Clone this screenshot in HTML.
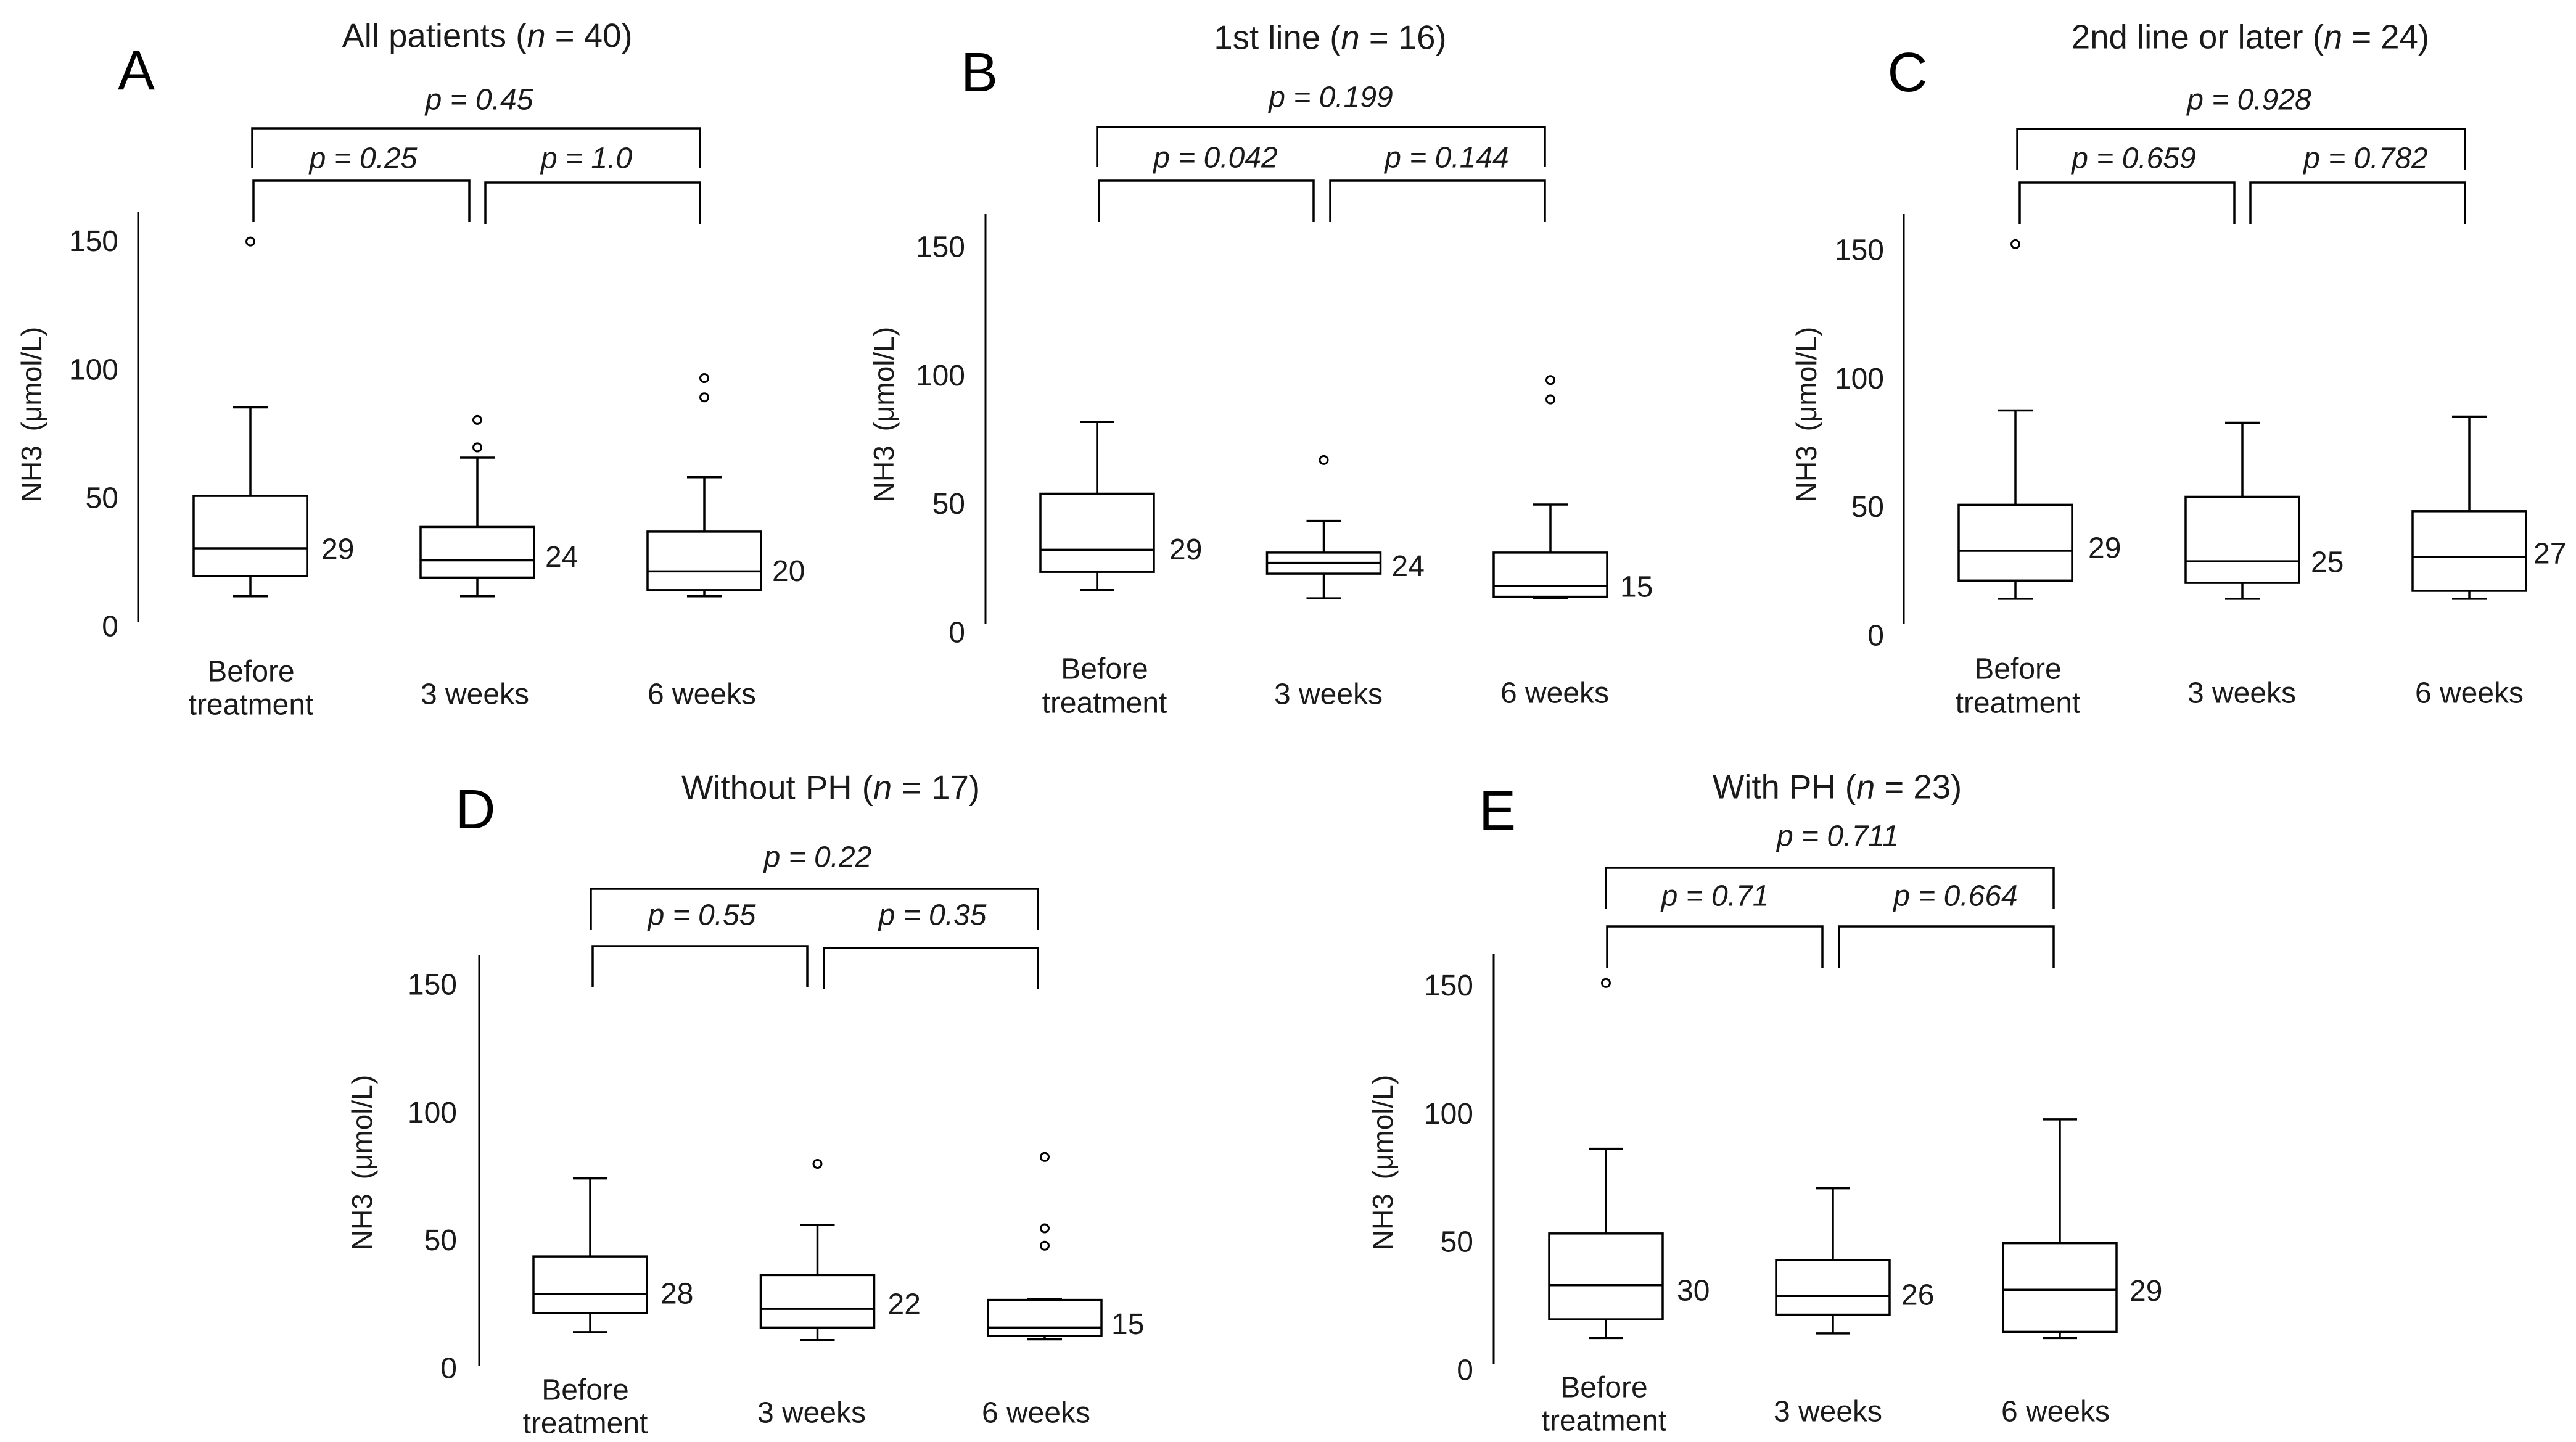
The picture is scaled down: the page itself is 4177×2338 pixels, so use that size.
<!DOCTYPE html>
<html lang="en">
<head>
<meta charset="utf-8">
<title>NH3 levels before and during treatment</title>
<style>
  html, body { margin: 0; padding: 0; background: #fff; }
  svg { display: block; }
  text { font-family: "Liberation Sans", Arial, sans-serif; fill: #1a1a1a; }
  .title { font-size: 54.5px; text-anchor: middle; dominant-baseline: central; }
  .letter { font-size: 90px; text-anchor: middle; dominant-baseline: central; fill: #000; }
  .pval { font-size: 48px; font-style: italic; text-anchor: middle; dominant-baseline: central; }
  .xlab { font-size: 48px; text-anchor: middle; dominant-baseline: central; }
  .ylab { font-size: 46px; text-anchor: middle; dominant-baseline: central; word-spacing: 10px; }
  .tick { font-size: 48px; text-anchor: end; dominant-baseline: central; }
  .value { font-size: 48px; text-anchor: start; dominant-baseline: central; }
  .bracket { fill: none; stroke: #000; stroke-width: 3.5px; }
  .axis { stroke: #000; stroke-width: 3px; }
  .mark { stroke: #000; stroke-width: 3.5px; fill: none; }
  .whisker { stroke: #000; stroke-width: 3.5px; }
  .outlier { stroke: #000; stroke-width: 3px; fill: #fff; }
</style>
</head>
<body>
<svg id="figure" xmlns="http://www.w3.org/2000/svg" width="4177" height="2338" viewBox="0 0 4177 2338">
  <rect x="0" y="0" width="4177" height="2338" fill="#fff"/>

  <g id="panel-a">
    <text class="letter" x="221" y="115">A</text>
    <text class="title" x="790" y="58">All patients (<tspan font-style="italic">n</tspan> = 40)</text>
    <text class="pval" x="777" y="162">p = 0.45</text>
    <path class="bracket" d="M409 273V208H1135V273"/>
    <text class="pval" x="589" y="257">p = 0.25</text>
    <text class="pval" x="951" y="257">p = 1.0</text>
    <path class="bracket" d="M411 360V293H761V360"/>
    <path class="bracket" d="M787 363V296H1135V363"/>
    <text class="ylab" transform="translate(51 672) rotate(-90)">NH3 (μmol/L)</text>
    <text class="xlab" x="407" y="1089">Before</text>
    <text class="xlab" x="407" y="1143">treatment</text>
    <text class="xlab" x="770" y="1126">3 weeks</text>
    <text class="xlab" x="1138" y="1126">6 weeks</text>
  </g>

  <g id="panel-b">
    <text class="letter" x="1588" y="118">B</text>
    <text class="title" x="2157" y="61">1st line (<tspan font-style="italic">n</tspan> = 16)</text>
    <text class="pval" x="2158" y="158">p = 0.199</text>
    <path class="bracket" d="M1779 271V206H2505V271"/>
    <text class="pval" x="1971" y="256">p = 0.042</text>
    <text class="pval" x="2346" y="256">p = 0.144</text>
    <path class="bracket" d="M1782 360V293H2130V360"/>
    <path class="bracket" d="M2157 360V293H2505V360"/>
    <text class="ylab" transform="translate(1433 672) rotate(-90)">NH3 (μmol/L)</text>
    <text class="xlab" x="1791" y="1085">Before</text>
    <text class="xlab" x="1791" y="1140">treatment</text>
    <text class="xlab" x="2154" y="1126">3 weeks</text>
    <text class="xlab" x="2521" y="1124">6 weeks</text>
  </g>

  <g id="panel-c">
    <text class="letter" x="3093" y="118">C</text>
    <text class="title" x="3649" y="60">2nd line or later (<tspan font-style="italic">n</tspan> = 24)</text>
    <text class="pval" x="3647" y="162">p = 0.928</text>
    <path class="bracket" d="M3271 275V209H3997V275"/>
    <text class="pval" x="3460" y="257">p = 0.659</text>
    <text class="pval" x="3836" y="257">p = 0.782</text>
    <path class="bracket" d="M3275 363V296H3623V363"/>
    <path class="bracket" d="M3649 363V296H3997V363"/>
    <text class="ylab" transform="translate(2929 672) rotate(-90)">NH3 (μmol/L)</text>
    <text class="xlab" x="3272" y="1085">Before</text>
    <text class="xlab" x="3272" y="1140">treatment</text>
    <text class="xlab" x="3635" y="1124">3 weeks</text>
    <text class="xlab" x="4004" y="1124">6 weeks</text>
  </g>

  <g id="panel-d">
    <text class="letter" x="771" y="1313">D</text>
    <text class="title" x="1347" y="1277" style="word-spacing:1px">Without PH (<tspan font-style="italic">n</tspan> = 17)</text>
    <text class="pval" x="1326" y="1390">p = 0.22</text>
    <path class="bracket" d="M958 1508V1441H1683V1508"/>
    <text class="pval" x="1138" y="1484">p = 0.55</text>
    <text class="pval" x="1512" y="1484">p = 0.35</text>
    <path class="bracket" d="M961 1601V1534H1309V1601"/>
    <path class="bracket" d="M1336 1603V1537H1683V1603"/>
    <text class="ylab" transform="translate(587 1885) rotate(-90)">NH3 (μmol/L)</text>
    <text class="xlab" x="949" y="2254">Before</text>
    <text class="xlab" x="949" y="2308">treatment</text>
    <text class="xlab" x="1316" y="2291">3 weeks</text>
    <text class="xlab" x="1680" y="2291">6 weeks</text>
  </g>

  <g id="panel-e">
    <text class="letter" x="2428" y="1315">E</text>
    <text class="title" x="2979" y="1276">With PH (<tspan font-style="italic">n</tspan> = 23)</text>
    <text class="pval" x="2980" y="1356">p = 0.711</text>
    <path class="bracket" d="M2604 1474V1407H3330V1474"/>
    <text class="pval" x="2781" y="1453">p = 0.71</text>
    <text class="pval" x="3171" y="1453">p = 0.664</text>
    <path class="bracket" d="M2606 1569V1502H2955V1569"/>
    <path class="bracket" d="M2982 1569V1502H3330V1569"/>
    <text class="ylab" transform="translate(2242 1885) rotate(-90)">NH3 (μmol/L)</text>
    <text class="xlab" x="2601" y="2250">Before</text>
    <text class="xlab" x="2601" y="2304">treatment</text>
    <text class="xlab" x="2964" y="2289">3 weeks</text>
    <text class="xlab" x="3333" y="2289">6 weeks</text>
  </g>
</svg>

<script>
// Shared tick labels
const tickValues = [0, 50, 100, 150];

// Panel A: All patients
const lowA = [12.3, 12.3, 12.3];
const q1A = [20.2, 19.6, 14.7];
const medianA = [31.0, 26.3, 22.0];
const q3A = [51.4, 39.3, 37.5];
const highA = [85.9, 66.3, 58.7];
const outliersA = [[150.5], [70.3, 81.0], [89.8, 97.3]];
const printedA = [29, 24, 20];

// Panel B: 1st line
const lowB = [17.1, 13.9, 14.1];
const q1B = [24.2, 23.5, 14.5];
const medianB = [32.8, 27.7, 18.7];
const q3B = [54.6, 31.7, 31.7];
const highB = [82.5, 44.0, 50.4];
const outliersB = [[], [67.7], [91.3, 98.8]];
const printedB = [29, 24, 15];

// Panel C: 2nd line or later
const lowC = [14.9, 14.9, 14.9];
const q1C = [22.0, 21.1, 18.0];
const medianC = [33.6, 29.5, 31.2];
const q3C = [51.5, 54.6, 49.0];
const highC = [88.2, 83.4, 85.8];
const outliersC = [[152.9], [], []];
const printedC = [29, 25, 27];

// Panel D: Without PH
const lowD = [14.5, 11.4, 11.7];
const q1D = [21.9, 16.3, 13.0];
const medianD = [29.4, 23.6, 16.3];
const q3D = [44.1, 36.8, 27.1];
const highD = [74.6, 56.5, 27.5];
const outliersD = [[], [80.3], [48.3, 55.1, 83.0]];
const printedD = [28, 22, 15];

// Panel E: With PH
const lowE = [12.9, 14.7, 12.9];
const q1E = [20.2, 22.0, 15.3];
const medianE = [33.5, 29.3, 31.7];
const q3E = [53.7, 43.3, 49.9];
const highE = [86.7, 71.3, 98.2];
const outliersE = [[151.4], [], []];
const printedE = [30, 26, 29];

const SVG_NS = 'http://www.w3.org/2000/svg';

function make(parent, tag, cls) {
  const el = document.createElementNS(SVG_NS, tag);
  if (cls) el.setAttribute('class', cls);
  parent.appendChild(el);
  return el;
}

function line(parent, cls, x1, y1, x2, y2) {
  const el = make(parent, 'line', cls);
  el.setAttribute('x1', x1);
  el.setAttribute('y1', y1);
  el.setAttribute('x2', x2);
  el.setAttribute('y2', y2);
  return el;
}

function drawPanel(panelId, frame, low, q1, median, q3, high, outliers, printed) {
  const root = document.getElementById(panelId);
  const tickY = v => frame.zeroY - frame.unit * v;
  const yFor = v => frame.zeroY + frame.markShift - frame.unit * v;
  const xFor = i => frame.firstX + frame.step * i;
  const boxHalf = 92;
  const capHalf = 28;

  const axis = line(root, 'axis', frame.axisX, frame.axisTop, frame.axisX, frame.axisBottom);
  
  

  tickValues.forEach(t => {
    const tick = make(root, 'text', 'tick');
    tick.setAttribute('x', frame.tickRight);
    tick.setAttribute('y', tickY(t));
    tick.textContent = String(t);
    
    
  });

  median.forEach((m, i) => {
    const cx = xFor(i);

    const upper = line(root, 'whisker', cx, yFor(q3[i]), cx, yFor(high[i]));
    
    

    const upperCap = line(root, 'whisker', cx - capHalf, yFor(high[i]), cx + capHalf, yFor(high[i]));
    
    

    const lower = line(root, 'whisker', cx, yFor(q1[i]), cx, yFor(low[i]));
    
    

    const lowerCap = line(root, 'whisker', cx - capHalf, yFor(low[i]), cx + capHalf, yFor(low[i]));
    
    

    const box = make(root, 'rect', 'mark');
    box.setAttribute('x', cx - boxHalf);
    box.setAttribute('y', yFor(q3[i]));
    box.setAttribute('width', boxHalf * 2);
    box.setAttribute('height', yFor(q1[i]) - yFor(q3[i]));
    box.setAttribute('fill', '#fff');
    box.style.fill = '#fff';
    
    

    const medianLine = line(root, 'whisker', cx - boxHalf, yFor(m), cx + boxHalf, yFor(m));
    
    

    outliers[i].forEach(o => {
      const dot = make(root, 'circle', 'outlier');
      dot.setAttribute('cx', cx);
      dot.setAttribute('cy', yFor(o));
      dot.setAttribute('r', 6.5);
      
      
    });

    const value = make(root, 'text', 'value');
    value.setAttribute('x', cx + boxHalf + frame.labelGap[i]);
    value.setAttribute('y', yFor(m) + frame.labelNudge[i]);
    value.textContent = String(printed[i]);
    
    
  });
}

drawPanel('panel-a',
  { axisX: 224, axisTop: 343, axisBottom: 1008, zeroY: 1016, markShift: 2, unit: 4.162, firstX: 406, step: 368, tickRight: 192, labelGap: [23, 18, 18], labelNudge: [2, -5, 0] },
  lowA, q1A, medianA, q3A, highA, outliersA, printedA);

drawPanel('panel-b',
  { axisX: 1598, axisTop: 347, axisBottom: 1011, zeroY: 1026, markShift: 2, unit: 4.167, firstX: 1779, step: 367.5, tickRight: 1565, labelGap: [25, 18, 21], labelNudge: [0, 6, 2] },
  lowB, q1B, medianB, q3B, highB, outliersB, printedB);

drawPanel('panel-c',
  { axisX: 3087, axisTop: 347, axisBottom: 1011, zeroY: 1031, markShift: 2, unit: 4.167, firstX: 3268, step: 368, tickRight: 3055, labelGap: [26, 19, 12], labelNudge: [-4, 2, -5] },
  lowC, q1C, medianC, q3C, highC, outliersC, printedC);

drawPanel('panel-d',
  { axisX: 777, axisTop: 1549, axisBottom: 2214, zeroY: 2219, markShift: 1, unit: 4.147, firstX: 957, step: 368.5, tickRight: 741, labelGap: [22, 22, 16], labelNudge: [0, -7, -5] },
  lowD, q1D, medianD, q3D, highD, outliersD, printedD);

drawPanel('panel-e',
  { axisX: 2422, axisTop: 1546, axisBottom: 2211, zeroY: 2222, markShift: 1, unit: 4.156, firstX: 2604, step: 368, tickRight: 2389, labelGap: [23, 19, 21], labelNudge: [9, -1, 2] },
  lowE, q1E, medianE, q3E, highE, outliersE, printedE);
</script>
</body>
</html>
